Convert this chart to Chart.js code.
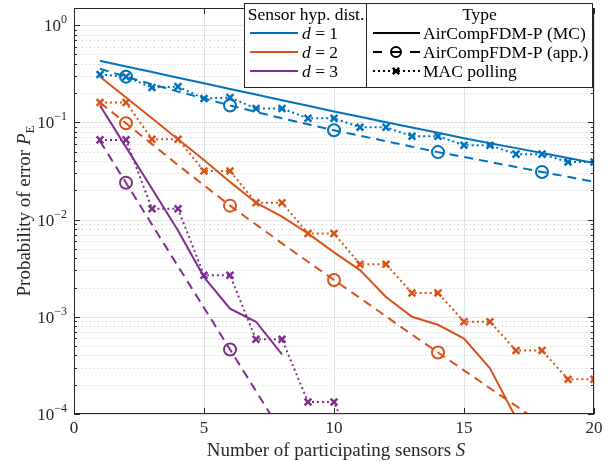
<!DOCTYPE html>
<html>
<head>
<meta charset="utf-8">
<script src="https://cdn.jsdelivr.net/npm/chart.js@4.4.1/dist/chart.umd.min.js"></script>
<style>
  html, body { margin: 0; padding: 0; background: #fff; }
  #wrap { width: 611px; height: 461px; }
</style>
</head>
<body>
<div id="wrap"><canvas id="pe" width="611" height="461"></canvas></div>
<script>
'use strict';

// ─── Data ─────────────────────────────────────────────────────
const SENSORS = [1, 2, 3, 4, 5, 6, 7, 8, 9, 10, 11, 12, 13, 14, 15, 16, 17, 18, 19, 20];

// d = 1
const D1_MC  = [0.430, 0.376, 0.329, 0.288, 0.252, 0.220, 0.193, 0.169, 0.148, 0.129,
                0.114, 0.100, 0.0885, 0.078, 0.0687, 0.061, 0.0543, 0.0483, 0.043, 0.0382];
const D1_APP = [0.356, 0.295, 0.247, 0.207, 0.176, 0.149, 0.128, 0.110, 0.0954, 0.0828,
                0.0728, 0.0640, 0.0562, 0.0494, 0.0440, 0.0391, 0.0347, 0.0309, 0.0275, 0.0244];
const D1_MAC = [0.311, 0.294, 0.228, 0.233, 0.176, 0.180, 0.139, 0.139, 0.110, 0.110,
                0.0889, 0.0889, 0.0720, 0.0720, 0.0582, 0.0582, 0.0471, 0.0471, 0.0391, 0.0391];

// d = 2
const D2_MC  = [0.295, 0.180, 0.110, 0.0671, 0.0410, 0.0244, 0.0149, 0.0107, 0.00720, 0.00460,
                0.00302, 0.00160, 0.00100, 0.000828, 0.000597, 0.000295, 0.0000910];
const D2_APP = [0.160, 0.0977, 0.0597, 0.0364, 0.0225, 0.0139, 0.00889, 0.00569, 0.00368, 0.00239,
                0.00156, 0.00101, 0.000655, 0.000429, 0.000281, 0.000184, 0.000121, 0.0000791];
const D2_MAC = [0.160, 0.160, 0.0671, 0.0671, 0.0316, 0.0316, 0.0149, 0.0149, 0.00720, 0.00720,
                0.00347, 0.00347, 0.00176, 0.00176, 0.000889, 0.000889, 0.000450, 0.000450, 0.000228, 0.000228];

// d = 3
const D3_MC  = [0.149, 0.0556, 0.0207, 0.00772, 0.00256, 0.00121, 0.000889, 0.000410];
const D3_APP = [0.064, 0.0239, 0.00889, 0.00331, 0.00124, 0.000461, 0.000172, 0.0000640];
const D3_MAC = [0.0660, 0.0660, 0.0129, 0.0129, 0.00267, 0.00267, 0.000586, 0.000586, 0.000133, 0.000133, 0.000031];

const APP_MARKER_AT = [2, 6, 10, 14, 18];

const X_TICKS = [0, 5, 10, 15, 20];
const Y_MAJOR = [1e-4, 1e-3, 1e-2, 1e-1, 1];
const Y_EXP   = ['\u22124', '\u22123', '\u22122', '\u22121', '0'];

const DIST_LABELS = ['1', '2', '3'];
const TYPE_LABELS = ['AirCompFDM-P (MC)', 'AirCompFDM-P (app.)', 'MAC polling'];

const BLUE = '#0072BD', ORANGE = '#D95319', PURPLE = '#7E2F8E';
const DIST_COLORS = [BLUE, ORANGE, PURPLE];
const SERIF = '"Liberation Serif", "DejaVu Serif", serif';
const AXIS = '#262626';

// ─── Helpers ──────────────────────────────────────────────────
const pts = vals => vals.map((v, i) => ({ x: SENSORS[i], y: v }));

function mcSet(vals, color) {
    return { data: pts(vals), borderColor: color, borderWidth: 2, pointRadius: 0 };
}
function appSet(vals, color) {
    return {
        data: pts(vals), borderColor: color, borderWidth: 2, borderDash: [9, 6],
        pointStyle: 'circle',
        pointRadius: c => (c.raw && APP_MARKER_AT.includes(c.raw.x) ? 6 : 0),
        pointBorderWidth: 2, pointBorderColor: color, pointBackgroundColor: 'rgba(0,0,0,0)'
    };
}
function macSet(vals, color) {
    return {
        data: pts(vals), borderColor: color, borderWidth: 2, borderDash: [2, 3],
        pointStyle: 'crossRot', pointRadius: 4.8, pointBorderWidth: 2.5,
        pointBorderColor: color, pointBackgroundColor: color
    };
}

function hline(ctx, x1, x2, y) { ctx.beginPath(); ctx.moveTo(x1, y); ctx.lineTo(x2, y); ctx.stroke(); }
function vline(ctx, x, y1, y2) { ctx.beginPath(); ctx.moveTo(x, y1); ctx.lineTo(x, y2); ctx.stroke(); }

function minorValues() {
    const out = [];
    Y_MAJOR.forEach(m => { for (let k = 2; k <= 9; k++) if (m * k <= 1.5) out.push(m * k); });
    return out;
}

// draw mixed runs [{t, italic, size, dy}] starting at x, baseline y
function runs(ctx, parts, x, y) {
    parts.forEach(p => {
        ctx.font = `${p.italic ? 'italic ' : ''}${p.size}px ${SERIF}`;
        ctx.fillText(p.t, x, y + (p.dy || 0));
        x += ctx.measureText(p.t).width;
    });
}
function runsWidth(ctx, parts) {
    return parts.reduce((w, p) => {
        ctx.font = `${p.italic ? 'italic ' : ''}${p.size}px ${SERIF}`;
        return w + ctx.measureText(p.t).width;
    }, 0);
}

// ─── Grid (under the lines) ───────────────────────────────────
const gridPlugin = {
    id: 'matlabGrid',
    beforeDatasetsDraw(chart) {
        const { ctx, chartArea: a, scales: { x, y } } = chart;
        ctx.save();
        ctx.lineWidth = 1;
        ctx.strokeStyle = '#cdcdcd';
        ctx.setLineDash([1, 3]);
        minorValues().forEach(v => hline(ctx, a.left, a.right, Math.round(y.getPixelForValue(v)) + 0.5));
        ctx.setLineDash([]);
        ctx.strokeStyle = '#e1e1e1';
        Y_MAJOR.forEach(v => hline(ctx, a.left, a.right, Math.round(y.getPixelForValue(v)) + 0.5));
        X_TICKS.forEach(v => vline(ctx, Math.round(x.getPixelForValue(v)) + 0.5, a.top, a.bottom));
        ctx.restore();
    }
};

// ─── Frame, ticks, labels, legend (over the lines) ────────────
const framePlugin = {
    id: 'matlabFrame',
    afterDraw(chart) {
        const { ctx, chartArea: a, scales: { x, y } } = chart;
        ctx.save();
        ctx.strokeStyle = AXIS;
        ctx.lineWidth = 1;
        ctx.strokeRect(a.left + 0.5, a.top + 0.5, a.right - a.left - 1, a.bottom - a.top - 1);

        // inward ticks
        minorValues().forEach(v => {
            const py = Math.round(y.getPixelForValue(v)) + 0.5;
            hline(ctx, a.left, a.left + 3, py); hline(ctx, a.right - 3, a.right, py);
        });
        Y_MAJOR.forEach(v => {
            const py = Math.round(y.getPixelForValue(v)) + 0.5;
            hline(ctx, a.left, a.left + 6, py); hline(ctx, a.right - 6, a.right, py);
        });
        X_TICKS.forEach(v => {
            const px = Math.round(x.getPixelForValue(v)) + 0.5;
            vline(ctx, px, a.bottom - 6, a.bottom); vline(ctx, px, a.top, a.top + 6);
        });

        // tick labels
        ctx.fillStyle = AXIS;
        ctx.textBaseline = 'alphabetic';
        ctx.textAlign = 'center';
        ctx.font = `17px ${SERIF}`;
        X_TICKS.forEach(v => ctx.fillText(String(v), x.getPixelForValue(v), a.bottom + 19));
        ctx.textAlign = 'left';
        Y_MAJOR.forEach((v, i) => {
            const parts = [{ t: '10', size: 17 }, { t: Y_EXP[i], size: 12, dy: -8 }];
            const w = runsWidth(ctx, parts);
            runs(ctx, parts, a.left - 7 - w, y.getPixelForValue(v) + 6);
        });

        // axis titles
        const xt = [{ t: 'Number of participating sensors ', size: 19 }, { t: 'S', size: 19, italic: true }];
        runs(ctx, xt, (a.left + a.right) / 2 - runsWidth(ctx, xt) / 2 + 2, 456);
        const yt = [{ t: 'Probability of error ', size: 19 }, { t: 'P', size: 19, italic: true },
                    { t: 'E', size: 13, dy: 4 }];
        ctx.save();
        ctx.translate(30, (a.top + a.bottom) / 2);
        ctx.rotate(-Math.PI / 2);
        runs(ctx, yt, -runsWidth(ctx, yt) / 2, 0);
        ctx.restore();

        drawLegends(ctx);
        ctx.restore();
    }
};

function drawLegends(ctx) {
    const top = 3, bot = 87, l1 = 244, mid = 366, r2 = 593;
    const rows = [33, 52, 71];
    const fs = 17.5;
    ctx.fillStyle = '#fff';
    ctx.fillRect(l1, top, r2 - l1, bot - top);
    ctx.strokeStyle = AXIS;
    ctx.lineWidth = 1;
    ctx.setLineDash([]);
    ctx.strokeRect(l1 + 0.5, top + 0.5, mid - l1, bot - top);
    ctx.strokeRect(mid + 0.5, top + 0.5, r2 - mid - 1, bot - top);

    ctx.fillStyle = '#000';
    ctx.textAlign = 'center';
    ctx.font = `${fs}px ${SERIF}`;
    ctx.fillText('Sensor hyp. dist.', (l1 + mid) / 2 + 1, 20);
    ctx.fillText('Type', (mid + r2) / 2, 20);
    ctx.textAlign = 'left';

    // distance entries
    DIST_LABELS.forEach((d, i) => {
        ctx.strokeStyle = DIST_COLORS[i];
        ctx.lineWidth = 2;
        hline(ctx, 250, 298, rows[i]);
        runs(ctx, [{ t: 'd', size: fs, italic: true }, { t: ' = ' + d, size: fs }], 302, rows[i] + 6);
    });

    // type entries
    ctx.strokeStyle = '#000';
    ctx.fillStyle = '#000';
    ctx.lineWidth = 2;
    hline(ctx, 373, 420, rows[0]);
    hline(ctx, 373, 382, rows[1]); hline(ctx, 391, 401, rows[1]); hline(ctx, 410, 420, rows[1]);
    ctx.beginPath(); ctx.arc(396, rows[1], 5, 0, Math.PI * 2); ctx.stroke();
    ctx.setLineDash([2, 3]);
    hline(ctx, 373, 420, rows[2]);
    ctx.setLineDash([]);
    ctx.lineWidth = 2.5;
    const c = 396, r = 3.2;
    ctx.beginPath();
    ctx.moveTo(c - r, rows[2] - r); ctx.lineTo(c + r, rows[2] + r);
    ctx.moveTo(c + r, rows[2] - r); ctx.lineTo(c - r, rows[2] + r);
    ctx.stroke();
    TYPE_LABELS.forEach((t, i) => {
        ctx.font = `${fs}px ${SERIF}`;
        ctx.fillText(t, 423, rows[i] + 6);
    });
}

// ─── Chart ────────────────────────────────────────────────────
new Chart(document.getElementById('pe'), {
    type: 'line',
    data: {
        datasets: [
            mcSet(D1_MC, BLUE), appSet(D1_APP, BLUE), macSet(D1_MAC, BLUE),
            mcSet(D2_MC, ORANGE), appSet(D2_APP, ORANGE), macSet(D2_MAC, ORANGE),
            mcSet(D3_MC, PURPLE), appSet(D3_APP, PURPLE), macSet(D3_MAC, PURPLE)
        ]
    },
    options: {
        responsive: false,
        animation: false,
        devicePixelRatio: 1,
        layout: { padding: { top: 3, right: 17, left: 0, bottom: 0 } },
        elements: { line: { tension: 0, borderCapStyle: 'butt' } },
        plugins: { legend: { display: false }, tooltip: { enabled: false } },
        scales: {
            x: {
                type: 'linear', min: 0, max: 20,
                grid: { display: false }, border: { display: false },
                ticks: { display: false },
                afterFit: s => { s.height = 47; }
            },
            y: {
                type: 'logarithmic', min: 1e-4, max: 1.5,
                grid: { display: false }, border: { display: false },
                ticks: { display: false },
                afterFit: s => { s.width = 74; }
            }
        }
    },
    plugins: [gridPlugin, framePlugin]
});
</script>
</body>
</html>
